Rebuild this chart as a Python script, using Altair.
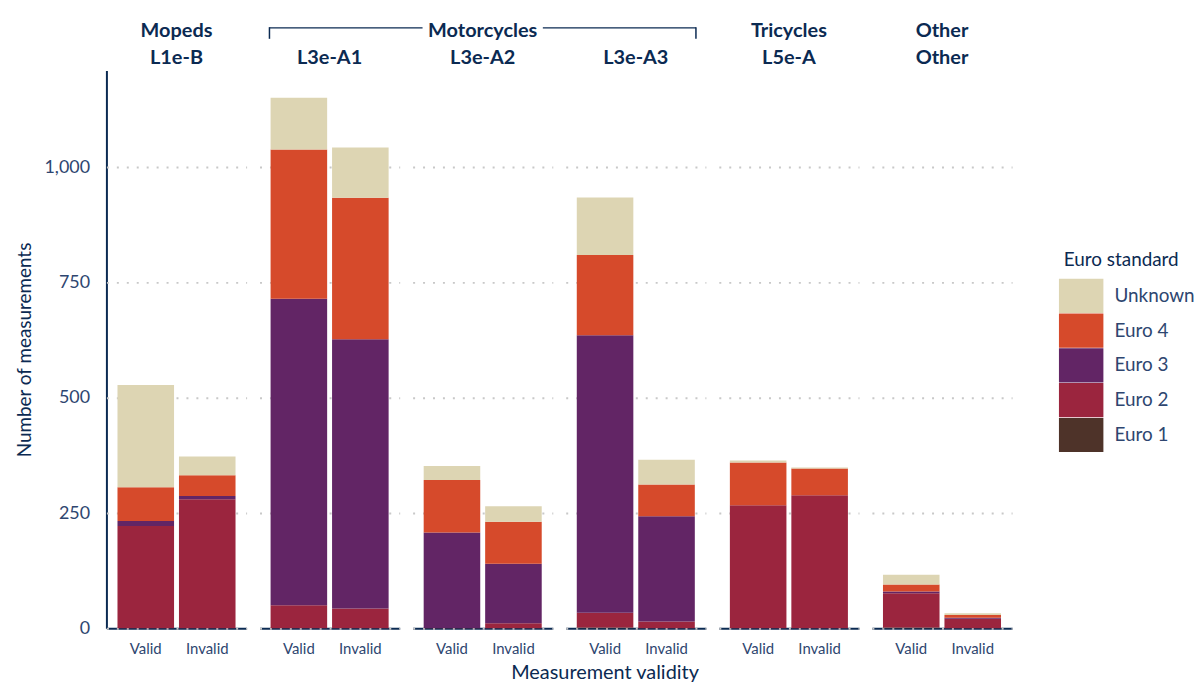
import pandas as pd
import altair as alt

# panel header: "top line|second line"
panels = ["Mopeds|L1e-B", "|L3e-A1", "Motorcycles|L3e-A2", "|L3e-A3", "Tricycles|L5e-A", "Other|Other"]
validity = ["Valid", "Invalid"]
standards = ["Euro 1", "Euro 2", "Euro 3", "Euro 4", "Unknown"]
legend_order = ["Unknown", "Euro 4", "Euro 3", "Euro 2", "Euro 1"]
legend_colors = ["#ddd5b3", "#d64a2b", "#622565", "#9b253e", "#4e3329"]

# values in panel order, Valid then Invalid
euro1 = [0, 0, 0, 0, 0, 0, 2, 0, 0, 0, 2, 0]
euro2 = [222, 280, 50, 43, 1, 11, 32, 15, 267, 289, 74, 21]
euro3 = [11, 7, 665, 584, 207, 129, 602, 228, 0, 0, 4, 2]
euro4 = [73, 45, 324, 307, 114, 91, 174, 69, 93, 58, 15, 6]
unknown = [222, 41, 112, 109, 30, 34, 125, 54, 4, 2, 21, 4]

y_ticks = [0, 250, 500, 750, 1000]

navy = "#0b2a52"
soft = "#2e4670"
font = "Lato"

rows = []
for k, (std, vals) in enumerate(zip(standards, [euro1, euro2, euro3, euro4, unknown])):
    for i, v in enumerate(vals):
        rows.append({"panel": panels[i // 2], "validity": validity[i % 2],
                     "standard": std, "rank": k, "count": v})
df = pd.DataFrame(rows)

bars = alt.Chart().mark_bar().encode(
    x=alt.X("validity:N", sort=validity, title=None,
            scale=alt.Scale(paddingInner=0.08, paddingOuter=0.18),
            axis=alt.Axis(labelAngle=0, ticks=False, domainColor=navy, domainWidth=2,
                          labelFontSize=15, labelColor=soft, labelPadding=13, grid=False)),
    y=alt.Y("count:Q", stack="zero", scale=alt.Scale(domain=[0, 1210], nice=False),
            axis=alt.Axis(values=y_ticks, format=",d", title="Number of measurements",
                          ticks=False, domainColor=navy, domainWidth=2,
                          labelFontSize=18, labelColor=soft, labelPadding=17,
                          titleFontSize=19, titleColor=navy, titleFontWeight="normal",
                          titlePadding=10, grid=True, gridDash=[2, 8], gridColor="#c8c8c8",
                          gridWidth=2)),
    color=alt.Color("standard:N", sort=legend_order,
                    scale=alt.Scale(domain=legend_order, range=legend_colors),
                    legend=alt.Legend(title="Euro standard", orient="none",
                                      legendX=963, legendY=182,
                                      symbolType="M-1.3,-1H1.3V1H-1.3Z", symbolSize=1183,
                                      symbolStrokeWidth=0, rowPadding=0, labelOffset=16,
                                      labelFontSize=19, labelColor=soft,
                                      titleFontSize=19, titleColor=navy,
                                      titleFontWeight="normal", titlePadding=8)),
    order=alt.Order("rank:Q", sort="ascending"),
)

# bracket over the three motorcycle panels, drawn from the middle one
bracket = alt.Chart().transform_filter(
    (alt.datum.panel == "Motorcycles|L3e-A2") & (alt.datum.standard == "Euro 1")
    & (alt.datum.validity == "Valid")
)
left_line = bracket.mark_rule(color=navy, strokeWidth=1.5).encode(
    x=alt.value(-144), x2=alt.value(10), y=alt.value(-43))
right_line = bracket.mark_rule(color=navy, strokeWidth=1.5).encode(
    x=alt.value(131), x2=alt.value(285), y=alt.value(-43))
left_tick = bracket.mark_rule(color=navy, strokeWidth=1.5).encode(
    x=alt.value(-144), y=alt.value(-43.7), y2=alt.value(-32))
right_tick = bracket.mark_rule(color=navy, strokeWidth=1.5).encode(
    x=alt.value(285), y=alt.value(-43.7), y2=alt.value(-32))

chart = alt.layer(bars, left_line, right_line, left_tick, right_tick, data=df).properties(
    width=141, height=561
).facet(
    column=alt.Column("panel:N", sort=panels, title=None,
                      header=alt.Header(labelExpr="split(datum.value, '|')",
                                        labelFont=font, labelFontSize=20,
                                        labelFontWeight="bold", labelColor=navy,
                                        labelLineHeight=27, labelPadding=3)),
    spacing=13,
    bounds="flush",
).properties(
    title=alt.TitleParams("Measurement validity", orient="bottom", anchor="middle",
                          fontSize=20, fontWeight="normal", color=navy, font=font,
                          offset=7),
    padding={"left": 7, "top": 11, "right": 0, "bottom": 0},
).configure(
    font=font
).configure_view(
    strokeWidth=0
)

chart.save("out.html", embed_options={"renderer": "svg", "actions": False})
